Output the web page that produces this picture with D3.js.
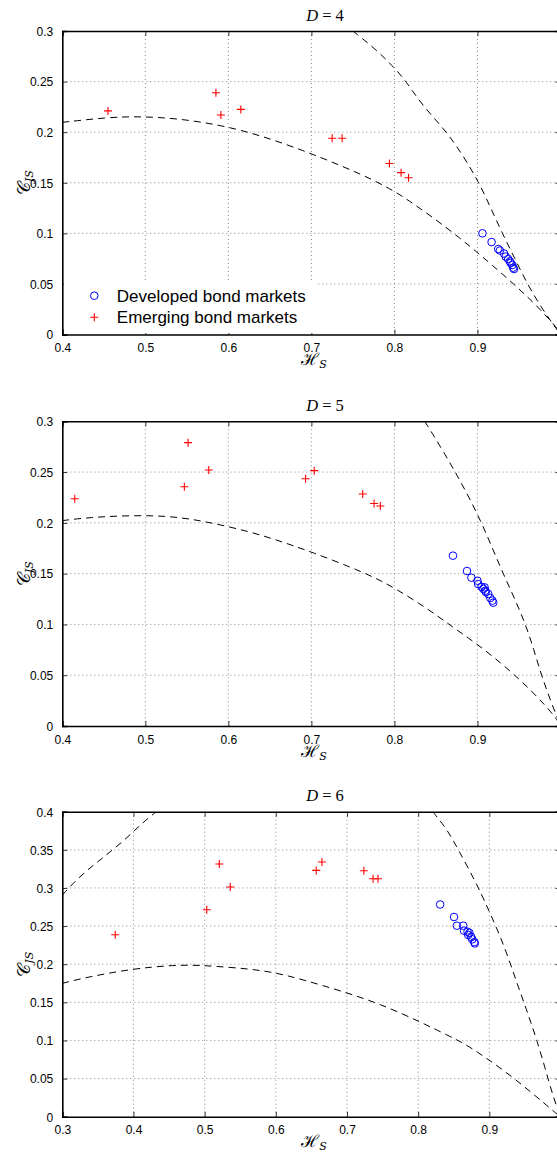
<!DOCTYPE html>
<html>
<head>
<meta charset="utf-8">
<script src="https://cdn.jsdelivr.net/npm/d3@7"></script>
<style>
  html, body { margin: 0; padding: 0; background: #fff; }
  svg { display: block; }
  .tick text { font-family: "Liberation Sans", Arial, sans-serif; font-size: 12px; fill: #000; }
</style>
</head>
<body>
<svg id="chart" width="557" height="1153"></svg>
<script>
// ---------------- DATA ----------------
// D = 4
const d4EmergingH = [0.455, 0.585, 0.591, 0.615, 0.725, 0.737, 0.794, 0.808, 0.817];
const d4EmergingC = [0.221, 0.239, 0.217, 0.2225, 0.194, 0.194, 0.169, 0.160, 0.155];
const d4DevelopedH = [0.906, 0.917, 0.925, 0.927, 0.932, 0.934, 0.937, 0.939, 0.940, 0.942, 0.943, 0.944];
const d4DevelopedC = [0.100, 0.0914, 0.0845, 0.083, 0.080, 0.077, 0.0746, 0.0723, 0.0707, 0.0687, 0.066, 0.0647];
const d4LowerCurve = [[0.4,0.2097],[0.4536,0.2146],[0.492,0.2156],[0.539,0.2136],[0.591,0.207],[0.638,0.197],[0.690,0.182],[0.737,0.1665],[0.7755,0.1525],[0.801,0.141],[0.8144,0.134],[0.8485,0.1145],[0.8785,0.0955],[0.9,0.081],[0.917,0.069],[0.943,0.0505],[0.969,0.0305],[0.995,0.0077],[1.0,0]];
const d4UpperCurve = [[0.75,0.3],[0.782,0.279],[0.806,0.258],[0.814,0.25],[0.835,0.225],[0.8635,0.2],[0.884,0.175],[0.902,0.15],[0.916,0.125],[0.930,0.1],[0.945,0.075],[0.96,0.05],[0.978,0.025],[1.0,0]];

// D = 5
const d5EmergingH = [0.415, 0.5515, 0.547, 0.5764, 0.693, 0.7034, 0.7618, 0.7755, 0.783];
const d5EmergingC = [0.2238, 0.279, 0.2356, 0.252, 0.2435, 0.2514, 0.2284, 0.219, 0.2166];
const d5DevelopedH = [0.8705, 0.8874, 0.8927, 0.900, 0.9008, 0.905, 0.907, 0.9086, 0.9095, 0.910, 0.913, 0.9155, 0.918, 0.919];
const d5DevelopedC = [0.1677, 0.1526, 0.146, 0.143, 0.1398, 0.137, 0.135, 0.1365, 0.1332, 0.132, 0.130, 0.126, 0.1234, 0.1214];
const d5LowerCurve = [[0.4,0.2022],[0.432,0.2054],[0.4837,0.2074],[0.531,0.2068],[0.574,0.2012],[0.6266,0.1913],[0.668,0.1805],[0.7026,0.1705],[0.7455,0.157],[0.7755,0.1465],[0.801,0.1355],[0.840,0.1155],[0.870,0.0975],[0.9,0.0805],[0.934,0.0584],[0.9687,0.032],[0.994,0.009],[1.0,0]];
const d5UpperCurve = [[0.8365,0.3],[0.857,0.273],[0.874,0.249],[0.89,0.225],[0.905,0.2],[0.918,0.175],[0.931,0.15],[0.945,0.125],[0.958,0.1],[0.968,0.075],[0.977,0.05],[0.988,0.025],[1.0,0]];

// D = 6
const d6EmergingH = [0.3744, 0.5206, 0.536, 0.503, 0.6568, 0.6648, 0.7237, 0.7366, 0.7436];
const d6EmergingC = [0.2387, 0.3314, 0.3012, 0.2715, 0.323, 0.334, 0.3226, 0.3121, 0.3121];
const d6DevelopedH = [0.8309, 0.8504, 0.8544, 0.8634, 0.8644, 0.8694, 0.8704, 0.872, 0.8743, 0.876, 0.879, 0.8796];
const d6DevelopedC = [0.2783, 0.2619, 0.2505, 0.2505, 0.244, 0.2426, 0.2383, 0.241, 0.236, 0.2326, 0.229, 0.2272];
const d6LowerCurve = [[0.3,0.1749],[0.3374,0.1836],[0.4,0.1941],[0.4522,0.1985],[0.482,0.1989],[0.512,0.1975],[0.562,0.194],[0.5994,0.189],[0.6368,0.18],[0.6917,0.165],[0.7466,0.148],[0.805,0.1235],[0.843,0.106],[0.8614,0.0975],[0.88,0.087],[0.921,0.0605],[0.961,0.0305],[0.9936,0.0044],[1.0,0]];
const d6UpperCurve = [[0.8205,0.4],[0.8414,0.376],[0.8564,0.35],[0.882,0.306],[0.896,0.277],[0.9077,0.2534],[0.924,0.216],[0.937,0.18],[0.95,0.1463],[0.958,0.1245],[0.9667,0.1005],[0.978,0.065],[0.99,0.025],[1.0,0]];
const d6LeftCurve = [[0.3,0.2907],[0.315,0.306],[0.3324,0.3213],[0.3499,0.3344],[0.3674,0.3475],[0.3848,0.3607],[0.4023,0.376],[0.4173,0.389],[0.4322,0.4]];

// ticks
const xTicksA = [0.4, 0.5, 0.6, 0.7, 0.8, 0.9, 1.0];
const xTicksB = [0.3, 0.4, 0.5, 0.6, 0.7, 0.8, 0.9, 1.0];
const yTicksA = [0, 0.05, 0.1, 0.15, 0.2, 0.25, 0.3];
const yTicksB = [0, 0.05, 0.1, 0.15, 0.2, 0.25, 0.3, 0.35, 0.4];
const titles = ["4", "5", "6"];
const legendLabels = ["Developed bond markets", "Emerging bond markets"];

// ---------------- DRAW ----------------
const svg = d3.select("#chart");
const LEFT = 62.3, RIGHT = 560.5;

const panels = [
  { top: 31, bottom: 334.5, xd: [0.4, 1.0], yd: [0, 0.3], xt: xTicksA, yt: yTicksA, title: titles[0],
    emH: d4EmergingH, emC: d4EmergingC, dvH: d4DevelopedH, dvC: d4DevelopedC, curves: [d4LowerCurve, d4UpperCurve], legend: true },
  { top: 421.3, bottom: 726, xd: [0.4, 1.0], yd: [0, 0.3], xt: xTicksA, yt: yTicksA, title: titles[1],
    emH: d5EmergingH, emC: d5EmergingC, dvH: d5DevelopedH, dvC: d5DevelopedC, curves: [d5LowerCurve, d5UpperCurve], legend: false },
  { top: 811.7, bottom: 1116.7, xd: [0.3, 1.0], yd: [0, 0.4], xt: xTicksB, yt: yTicksB, title: titles[2],
    emH: d6EmergingH, emC: d6EmergingC, dvH: d6DevelopedH, dvC: d6DevelopedC, curves: [d6LowerCurve, d6UpperCurve, d6LeftCurve], legend: false }
];

const fmt = d => d === 0 ? "0" : (d >= 1 ? "" : String(+d.toFixed(2)));
const plusPath = "M-4,0H4M0,-4V4";

panels.forEach((p, i) => {
  const x = d3.scaleLinear().domain(p.xd).range([LEFT, RIGHT]);
  const y = d3.scaleLinear().domain(p.yd).range([p.bottom, p.top]);
  const g = svg.append("g");
  const clipId = "clip" + i;
  svg.append("clipPath").attr("id", clipId).append("rect")
    .attr("x", LEFT).attr("y", p.top).attr("width", RIGHT - LEFT).attr("height", p.bottom - p.top);

  // grid
  const grid = g.append("g").attr("stroke", "#6a6a6a").attr("stroke-width", 0.8).attr("stroke-dasharray", "1,3");
  grid.selectAll("line.v").data(p.xt.slice(1, -1)).enter().append("line")
    .attr("x1", d => x(d)).attr("x2", d => x(d)).attr("y1", p.top).attr("y2", p.bottom);
  grid.selectAll("line.h").data(p.yt.slice(1, -1)).enter().append("line")
    .attr("y1", d => y(d)).attr("y2", d => y(d)).attr("x1", LEFT).attr("x2", RIGHT);

  // curves
  const line = d3.line().x(d => x(d[0])).y(d => y(d[1])).curve(d3.curveBasis);
  const cg = g.append("g").attr("clip-path", `url(#${clipId})`);
  p.curves.forEach(c => {
    cg.append("path").attr("d", line(c))
      .attr("fill", "none").attr("stroke", "#000").attr("stroke-width", 1).attr("stroke-dasharray", "7,5");
  });

  // markers
  g.append("g").selectAll("circle").data(p.dvH.map((h, k) => [h, p.dvC[k]])).enter().append("circle")
    .attr("cx", d => x(d[0])).attr("cy", d => y(d[1])).attr("r", 3.8)
    .attr("fill", "none").attr("stroke", "#0000ff").attr("stroke-width", 1);
  g.append("g").selectAll("path").data(p.emH.map((h, k) => [h, p.emC[k]])).enter().append("path")
    .attr("d", plusPath).attr("transform", d => `translate(${x(d[0])},${y(d[1])})`)
    .attr("fill", "none").attr("stroke", "#ff0000").attr("stroke-width", 1.1);

  // axes
  const ax = g.append("g").attr("transform", `translate(0,${p.bottom})`)
    .call(d3.axisBottom(x).tickValues(p.xt).tickFormat(fmt).tickSize(-5).tickPadding(9));
  const ay = g.append("g").attr("transform", `translate(${LEFT},0)`)
    .call(d3.axisLeft(y).tickValues(p.yt).tickFormat(fmt).tickSize(-5).tickPadding(9));
  const at = g.append("g").attr("transform", `translate(0,${p.top})`)
    .call(d3.axisTop(x).tickValues(p.xt).tickFormat("").tickSize(-5));
  const ar = g.append("g").attr("transform", `translate(${RIGHT},0)`)
    .call(d3.axisRight(y).tickValues(p.yt).tickFormat("").tickSize(-5));
  [ax, ay, at, ar].forEach(a => {
    a.select(".domain").attr("stroke", "#000").attr("stroke-width", 1.6);
    a.selectAll(".tick line").attr("stroke", "#000").attr("stroke-width", 0.8);
  });
  ax.selectAll(".tick text").attr("dy", "0.71em");
  ay.selectAll(".tick text").attr("dy", "0.36em");

  // title
  const t = svg.append("text").attr("x", 325).attr("y", p.top - 10.5).attr("text-anchor", "middle")
    .attr("font-family", "'Liberation Serif', 'DejaVu Serif', serif").attr("font-size", 16.5);
  t.append("tspan").attr("font-style", "italic").text("D");
  t.append("tspan").text(" = " + p.title);

  // x label
  const xl = svg.append("text").attr("x", 314).attr("y", p.bottom + 30.5).attr("text-anchor", "middle")
    .attr("font-family", "'DejaVu Serif', 'Liberation Serif', serif").attr("font-size", 17);
  xl.append("tspan").text("ℋ");
  xl.append("tspan").attr("font-size", 11).attr("font-style", "italic").attr("dy", 3).text("S");

  // y label
  const cy = (p.top + p.bottom) / 2;
  const yl = svg.append("text").attr("transform", `translate(30,${cy}) rotate(-90)`).attr("text-anchor", "middle")
    .attr("font-family", "'DejaVu Serif', 'Liberation Serif', serif").attr("font-size", 18);
  yl.append("tspan").text("𝒞");
  yl.append("tspan").attr("font-size", 11).attr("font-style", "italic").attr("dy", 3).text("JS");

  // legend
  if (p.legend) {
    const lg = svg.append("g");
    lg.append("rect").attr("x", 64).attr("y", 280).attr("width", 253).attr("height", 53).attr("fill", "#fff");
    lg.append("circle").attr("cx", 94.3).attr("cy", 295.7).attr("r", 3.8)
      .attr("fill", "none").attr("stroke", "#0000ff").attr("stroke-width", 1);
    lg.append("path").attr("d", plusPath).attr("transform", "translate(94.3,317.3)")
      .attr("fill", "none").attr("stroke", "#ff0000").attr("stroke-width", 1.1);
    lg.selectAll("text").data(legendLabels).enter().append("text")
      .attr("x", 116.8).attr("y", (d, k) => k === 0 ? 301.7 : 323.3)
      .attr("font-family", "'Liberation Sans', Arial, sans-serif").attr("font-size", 17).text(d => d);
  }
});
</script>
</body>
</html>
